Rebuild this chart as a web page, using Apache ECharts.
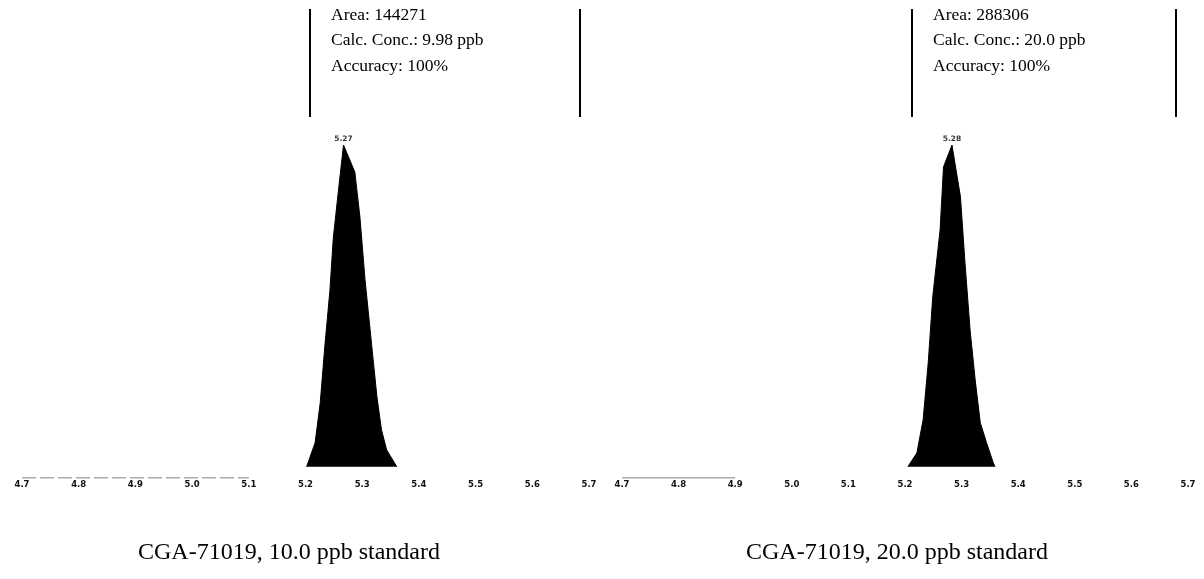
<!DOCTYPE html>
<html>
<head>
<meta charset="utf-8">
<script src="https://cdn.jsdelivr.net/npm/echarts@6/dist/echarts.min.js"></script>
<style>
  html, body { margin: 0; padding: 0; background: #fff; }
  #chart { width: 1204px; height: 579px; }
</style>
</head>
<body>
<div id="chart"></div>
<script>
// ---- Data ----
const xTicks = [4.7, 4.8, 4.9, 5.0, 5.1, 5.2, 5.3, 5.4, 5.5, 5.6, 5.7];
const peak10 = [[5.202,0],[5.217,7.5],[5.226,19.9],[5.234,37.3],[5.243,54.7],[5.249,71.1],[5.258,85.7],[5.267,100],[5.287,91.6],[5.296,77.6],[5.305,58.1],[5.314,42.5],[5.326,21.7],[5.334,11.5],[5.343,5.3],[5.361,0]];
const peak20 = [[5.205,0],[5.221,4.3],[5.232,14.6],[5.241,32.3],[5.249,52.8],[5.262,73.6],[5.268,93.2],[5.283,100],[5.298,83.9],[5.306,63.4],[5.315,42.5],[5.324,27.0],[5.333,13.7],[5.344,7.5],[5.356,1.2],[5.359,0]];
const apex10 = [5.267, 100];
const apex20 = [5.283, 100];
const rtLabels = ["5.27", "5.28"];
const annot10 = ["Area: 144271", "Calc. Conc.: 9.98 ppb", "Accuracy: 100%"];
const annot20 = ["Area: 288306", "Calc. Conc.: 20.0 ppb", "Accuracy: 100%"];
const captions = ["CGA-71019, 10.0 ppb standard", "CGA-71019, 20.0 ppb standard"];
const baseline10 = [[4.7, -3.5], [5.1, -3.5]];
const baseline20 = [[4.7, -3.5], [4.9, -3.5]];

const chart = echarts.init(document.getElementById('chart'));

function xAxisFor(gi) {
  return {
    type: 'value', gridIndex: gi, min: 4.7, max: 5.7, interval: 0.1,
    axisLine: { show: false },
    axisTick: { show: false },
    splitLine: { show: false },
    axisLabel: {
      show: true, margin: 2, fontSize: 8.5, fontWeight: 'bold', color: '#111',
      fontFamily: 'DejaVu Sans',
      formatter: v => v.toFixed(1)
    }
  };
}
function yAxisFor(gi) {
  return { type: 'value', gridIndex: gi, min: -3.5, max: 100, show: false };
}
function peakSeries(gi, data) {
  return {
    type: 'line', xAxisIndex: gi, yAxisIndex: gi, data: data,
    symbol: 'none', smooth: false,
    lineStyle: { color: '#000', width: 1 },
    areaStyle: { color: '#000', opacity: 1 },
    silent: true, z: 2
  };
}
function apexSeries(gi, pt, txt) {
  return {
    type: 'scatter', xAxisIndex: gi, yAxisIndex: gi, data: [pt],
    symbolSize: 0,
    label: { show: true, position: 'top', distance: 2, formatter: txt,
      fontSize: 7.5, fontWeight: 'bold', color: '#000', fontFamily: 'DejaVu Sans' },
    silent: true, z: 3
  };
}
function baseSeries(gi, data, dashed) {
  return {
    type: 'line', xAxisIndex: gi, yAxisIndex: gi, data: data, symbol: 'none',
    lineStyle: { color: '#555', width: 1, type: dashed ? [14, 4] : 'solid' },
    silent: true, z: 1
  };
}

function annotGraphic(xLeft, xRight, lines) {
  const g = [];
  g.push({ type: 'line', shape: { x1: xLeft, y1: 9, x2: xLeft, y2: 117 }, style: { stroke: '#000', lineWidth: 2 } });
  g.push({ type: 'line', shape: { x1: xRight, y1: 9, x2: xRight, y2: 117 }, style: { stroke: '#000', lineWidth: 2 } });
  lines.forEach((t, i) => {
    g.push({ type: 'text', left: xLeft + 21, top: 6 + i * 25.5,
      style: { text: t, fontSize: 17.5, fontFamily: 'Liberation Serif', fill: '#000' } });
  });
  return g;
}

const graphics = []
  .concat(annotGraphic(310, 580, annot10))
  .concat(annotGraphic(912, 1176, annot20))
  .concat([
    { type: 'text', x: 289, y: 553, style: { text: captions[0], fontSize: 24, fontFamily: 'Liberation Serif', fill: '#000', align: 'center', verticalAlign: 'middle' } },
    { type: 'text', x: 897, y: 553, style: { text: captions[1], fontSize: 24, fontFamily: 'Liberation Serif', fill: '#000', align: 'center', verticalAlign: 'middle' } }
  ]);

chart.setOption({
  animation: false,
  backgroundColor: '#fff',
  grid: [
    { left: 22, width: 567, top: 145, bottom: 101 },
    { left: 622, width: 566, top: 145, bottom: 101 }
  ],
  xAxis: [xAxisFor(0), xAxisFor(1)],
  yAxis: [yAxisFor(0), yAxisFor(1)],
  series: [
    peakSeries(0, peak10), peakSeries(1, peak20),
    apexSeries(0, apex10, rtLabels[0]), apexSeries(1, apex20, rtLabels[1]),
    baseSeries(0, baseline10, true), baseSeries(1, baseline20, false)
  ],
  graphic: graphics
});
</script>
</body>
</html>
